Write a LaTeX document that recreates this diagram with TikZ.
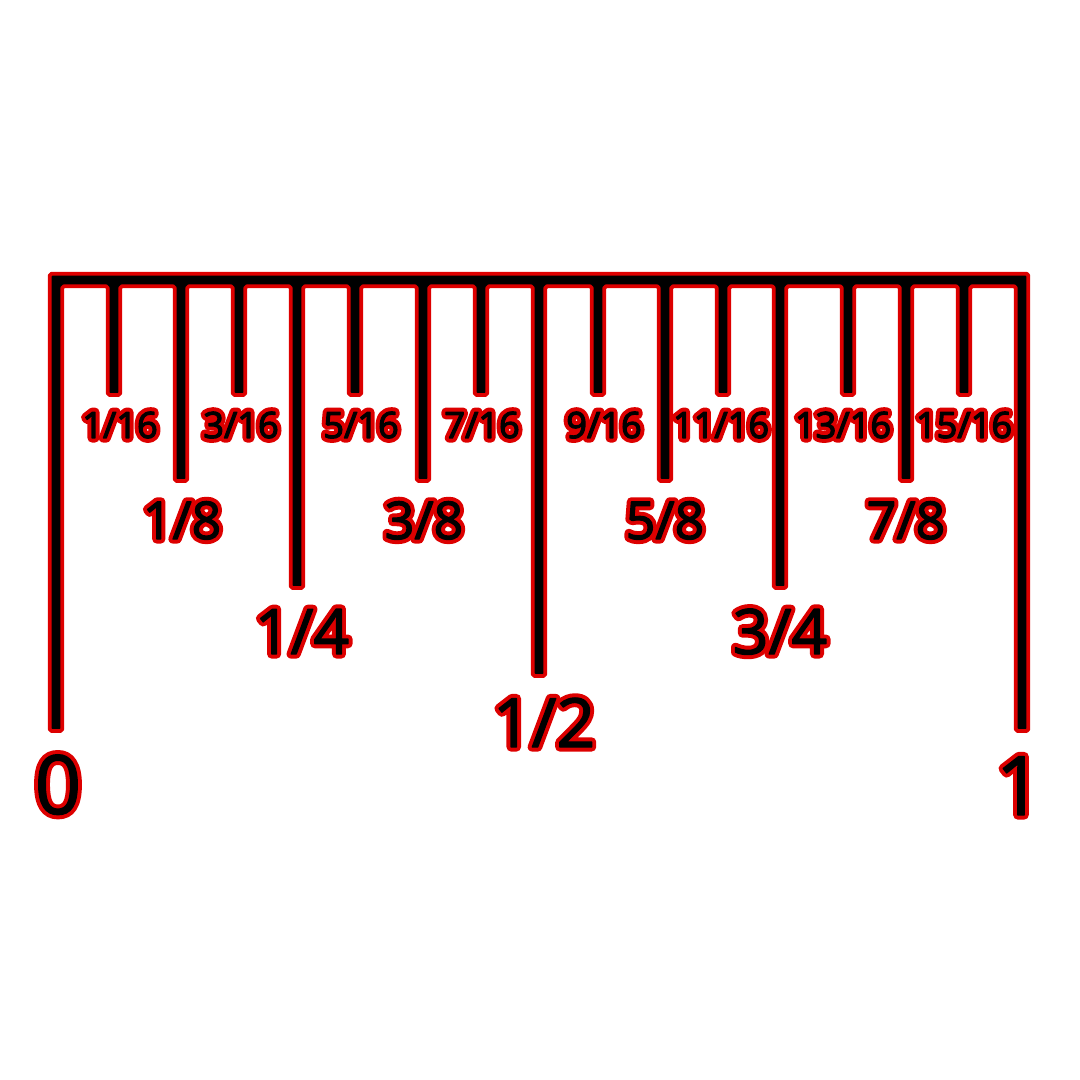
\documentclass[tikz,border=0pt]{standalone}
\usepackage{fontspec}
\setmainfont{Open Sans}
\usepackage{tikz}
\usetikzlibrary{positioning}
\definecolor{rulerred}{HTML}{DD0000}
% red halo under the text, then the text in black, a little emboldened
\newcommand{\outl}[1]{%
  \rlap{\special{pdf:literal direct 2 Tr 1 j 2.6 w 0.867 0 0 rg 0.867 0 0 RG}#1}%
  \special{pdf:literal direct 2 Tr 1 j 0.35 w 0 0 0 rg 0 0 0 RG}#1%
  \special{pdf:literal direct 0 Tr 0 0 0 rg 0 0 0 RG}}
\tikzset{
  rulerbody/.style ={fill=black, draw=rulerred, line width=1.1pt,
                     rounded corners=0.5pt, line join=round},
  sixteenthlbl/.style={anchor=base, inner sep=0pt, font=\fontsize{10.3}{12}\selectfont},
  eighthlbl/.style ={anchor=base, inner sep=0pt, font=\fontsize{14.8}{17}\selectfont},
  quarterlbl/.style={anchor=base, inner sep=0pt, font=\fontsize{17.8}{21}\selectfont},
  halflbl/.style   ={anchor=base, inner sep=0pt, font=\fontsize{19.3}{23}\selectfont},
  endlbl/.style    ={anchor=base, inner sep=0pt, font=\fontsize{23.3}{28}\selectfont},
}
\begin{document}
\begin{tikzpicture}[x=0.01cm,y=-0.01cm]
  \useasboundingbox (0,0) rectangle (1080,1080);

  % frame and ticks as one outline
  \draw[rulerbody] (49.75,273.75) -- (1028.25,273.75) -- (1028.25,731) -- (1015.75,731) -- (1015.75,286.25)
    foreach \x/\b in {964/395, 906/481, 848/395, 780/588, 723/395, 665/481, 598/395, 539/676,
                      481/395, 423/481, 355/395, 297/588, 239/395, 181/481, 114/395}
      { -- (\x+6.25,286.25) -- (\x+6.25,\b) -- (\x-6.25,\b) -- (\x-6.25,286.25) }
    -- (62.25,286.25) -- (62.25,731) -- (49.75,731) -- cycle;

  % sixteenths
  \foreach \x/\n in {120/1, 241/3, 361/5, 482/7, 604/9, 721/11, 843/13, 964/15}
    \node[sixteenthlbl] (s\n) at (\x,438) {\outl{\n/16}};

  % eighths, quarters, half
  \node[eighthlbl] (e1) at (182,539) {\outl{1/8}};
  \node[eighthlbl] (e3) at (424,539) {\outl{3/8}};
  \node[eighthlbl] (e5) at (665,539) {\outl{5/8}};
  \node[eighthlbl] (e7) at (906,539) {\outl{7/8}};
  \node[quarterlbl] (q1) at (302,654) {\outl{1/4}};
  \node[quarterlbl] (q3) at (780,654) {\outl{3/4}};
  \node[halflbl] (h1) at (544,747) {\outl{1/2}};

  % ends
  \node[endlbl] (zero) at (58,814) {\outl{0}};
  \node[endlbl] (one)  at (1019,815) {\outl{1}};
\end{tikzpicture}
\end{document}
